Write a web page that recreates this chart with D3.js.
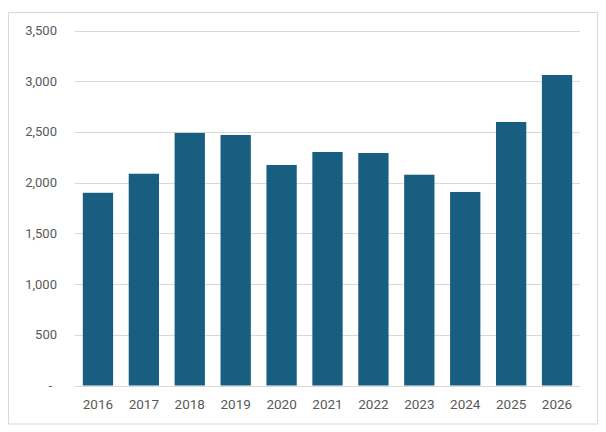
<!DOCTYPE html>
<html>
<head>
<meta charset="utf-8">
<script src="https://cdn.jsdelivr.net/npm/d3@7"></script>
<style>
	body { margin: 0; background: #fff; }
	svg text { font-family: Roboto, "Liberation Sans", sans-serif; fill: #595959; }
</style>
</head>
<body>
<svg id="figure_container"></svg>
<script>
var years = ['2016','2017','2018','2019','2020','2021','2022','2023','2024','2025','2026'],
	values = [1900, 2088, 2490, 2470, 2174, 2302, 2292, 2078, 1908, 2598, 3061],
	yTicks = [0, 500, 1000, 1500, 2000, 2500, 3000, 3500];

var width = 606,
	height = 432,
	barColor = '#175e81',
	gridColor = '#d9d9d9';

var vis = d3.select("#figure_container")
	.attr("width", width)
	.attr("height", height);

// outer frame
vis.append("rect")
	.attr("x", 8.5).attr("y", 12.5)
	.attr("width", 589).attr("height", 411.5)
	.attr("fill", "none")
	.attr("stroke", gridColor);

var x = d3.scaleBand()
	.domain(years)
	.range([75, 580])
	.paddingInner(0.34)
	.paddingOuter(0.17);

var y = d3.scaleLinear()
	.domain([0, 3500])
	.range([385.5, 30.5]);

// gridlines
vis.append("g")
	.selectAll("line")
	.data(yTicks)
	.enter()
	.append("line")
	.attr("x1", 75).attr("x2", 580)
	.attr("y1", function(d){ return Math.round(y(d)) + 0.5; })
	.attr("y2", function(d){ return Math.round(y(d)) + 0.5; })
	.attr("stroke", gridColor)
	.attr("stroke-width", 1);

// y labels
var fmt = d3.format(",");
vis.append("g")
	.selectAll("text")
	.data(yTicks)
	.enter()
	.append("text")
	.attr("x", function(d){ return d === 0 ? 52 : 57; })
	.attr("y", function(d){ return y(d); })
	.attr("dy", "0.35em")
	.attr("text-anchor", "end")
	.attr("font-size", 13)
	.text(function(d){ return d === 0 ? "-" : fmt(d); });

// bars
vis.append("g")
	.selectAll("rect")
	.data(values)
	.enter()
	.append("rect")
	.attr("x", function(d, i){ return x(years[i]); })
	.attr("y", function(d){ return y(d); })
	.attr("width", x.bandwidth())
	.attr("height", function(d){ return y(0) - y(d); })
	.attr("fill", barColor);

// x labels
vis.append("g")
	.selectAll("text")
	.data(years)
	.enter()
	.append("text")
	.attr("x", function(d){ return x(d) + x.bandwidth()/2; })
	.attr("y", 409)
	.attr("text-anchor", "middle")
	.attr("font-size", 13.5)
	.text(function(d){ return d; });
</script>
</body>
</html>
